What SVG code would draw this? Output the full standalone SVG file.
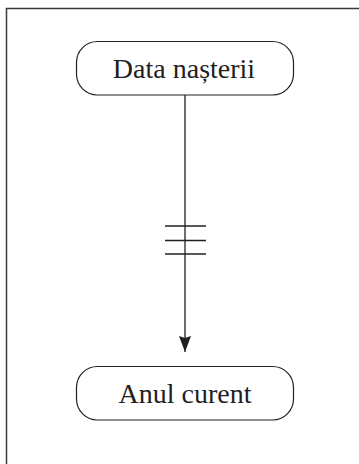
<svg xmlns="http://www.w3.org/2000/svg" width="359" height="464" viewBox="0 0 359 464">
<defs>
<style>
.node{fill:#fff;stroke:#231f20;stroke-width:1.2}
.lbl{font-family:"Liberation Serif","Times New Roman",serif;font-size:28px;fill:#231f20;text-anchor:middle}
.edge{stroke:#231f20;stroke-width:1.3;fill:none}
</style>
<marker id="ah" markerWidth="16" markerHeight="12" refX="16" refY="6" orient="auto" markerUnits="userSpaceOnUse" viewBox="0 0 16 12">
<path d="M0,0 L2,6 L0,12 L16,6 Z" fill="#231f20"/>
</marker>
</defs>
<rect width="359" height="464" fill="#fff"/>
<path d="M6.5,464 V8.5 H359" fill="none" stroke="#3a3a3a" stroke-width="1.5"/>
<g id="connectors">
<line class="edge" x1="185" y1="95" x2="185" y2="352" marker-end="url(#ah)"/>
<line class="edge" x1="165" y1="226" x2="206" y2="226"/>
<line class="edge" x1="165" y1="240.5" x2="206" y2="240.5"/>
<line class="edge" x1="165" y1="254" x2="206" y2="254"/>
</g>
<g id="node-data">
<rect class="node" x="76.5" y="41.5" width="217" height="53.5" rx="21" ry="21"/>
<text class="lbl" x="184" y="77.5">Data nașterii</text>
</g>
<g id="node-anul">
<rect class="node" x="76.5" y="366.5" width="217" height="53.5" rx="21" ry="21"/>
<text class="lbl" x="185" y="402.5">Anul curent</text>
</g>
</svg>
